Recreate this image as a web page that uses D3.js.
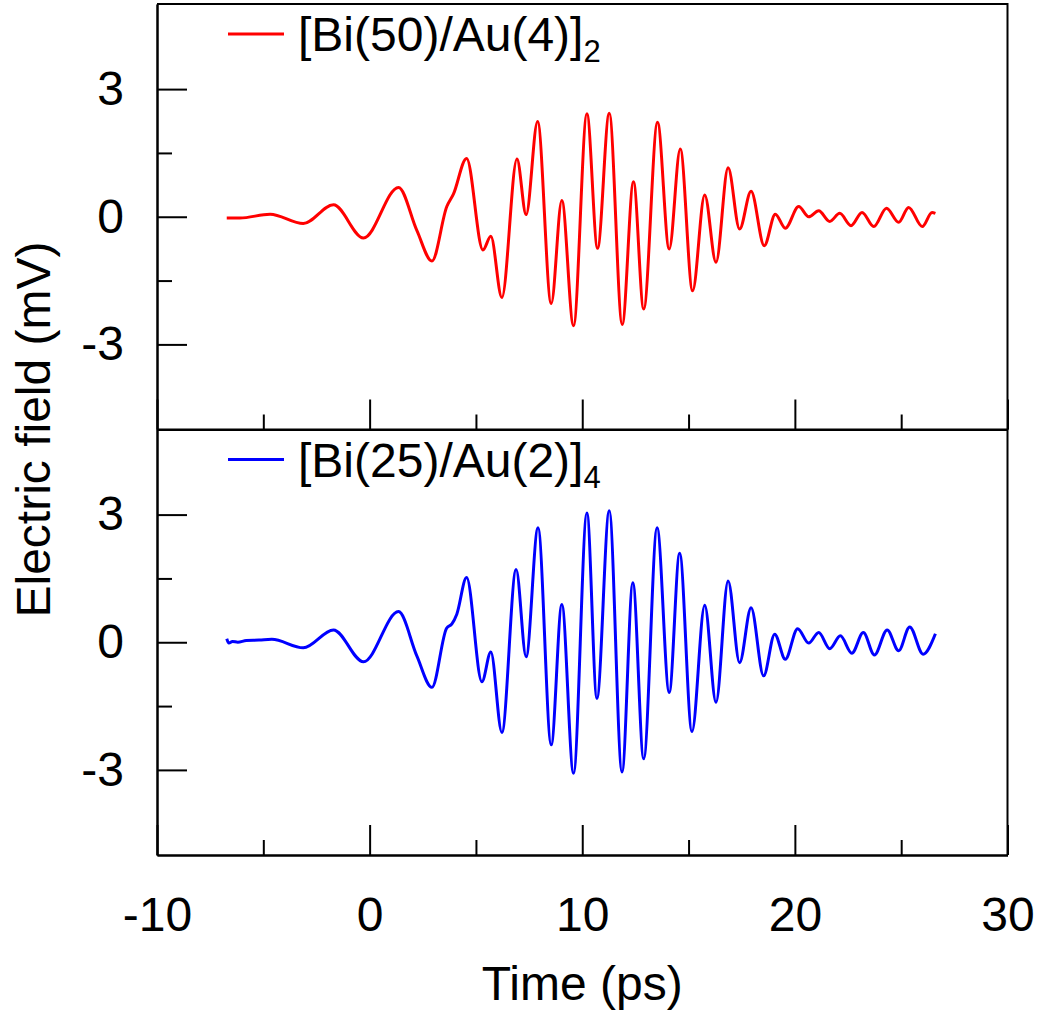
<!DOCTYPE html>
<html>
<head>
<meta charset="utf-8">
<script src="https://cdn.jsdelivr.net/npm/d3@7"></script>
<style>
body { margin: 0; background: #fff; }
text { font-family: "Liberation Sans", Arial, sans-serif; }
</style>
</head>
<body>
<div id="chart"></div>
<script>
// values (extrema and shoulders of each trace)
var redTime = [-6.72, -6.1, -4.68, -3.12, -1.70, -0.29, 1.36, 2.22, 2.93, 3.63, 3.94, 4.56,
    5.33, 5.70, 6.22, 6.93, 7.36, 7.90, 8.54, 9.04, 9.59, 10.22, 10.72, 11.27, 11.88, 12.41,
    12.89, 13.54, 14.09, 14.61, 15.19, 15.76, 16.29, 16.86, 17.40, 17.94, 18.56, 19.08, 19.55,
    20.18, 20.65, 21.12, 21.64, 22.11, 22.64, 23.16, 23.71, 24.31, 24.88, 25.35, 25.99, 26.45, 26.61]
var redField = [-0.03, -0.03, 0.06, -0.16, 0.28, -0.50, 0.69, -0.32, -1.04, 0.24, 0.53, 1.37,
    -0.78, -0.46, -1.90, 1.36, 0.05, 2.24, -2.04, 0.38, -2.56, 2.42, -0.74, 2.43, -2.53, 0.82,
    -2.17, 2.22, -0.76, 1.59, -1.74, 0.51, -1.07, 1.15, -0.29, 0.60, -0.68, 0.06, -0.27,
    0.24, 0.0, 0.14, -0.11, 0.08, -0.21, 0.10, -0.23, 0.20, -0.13, 0.22, -0.23, 0.10, 0.08]

var blueTime = [-6.72, -6.62, -6.45, -6.2, -5.8, -5.2, -4.6, -3.12, -1.70, -0.29, 1.36, 2.22,
    2.93, 3.62, 3.87, 4.10, 4.56, 5.28, 5.70, 6.22, 6.89, 7.36, 7.92, 8.54, 9.04, 9.59, 10.22,
    10.69, 11.27, 11.87, 12.38, 12.89, 13.52, 14.09, 14.58, 15.16, 15.76, 16.29, 16.86, 17.40,
    17.94, 18.53, 19.05, 19.55, 20.13, 20.65, 21.12, 21.64, 22.14, 22.68, 23.22, 23.74, 24.34,
    24.88, 25.40, 26.03, 26.61]
var blueField = [0.08, -0.02, 0.02, 0.0, 0.04, 0.05, 0.07, -0.13, 0.29, -0.46, 0.72, -0.32,
    -1.06, 0.33, 0.43, 0.66, 1.52, -0.93, -0.23, -2.12, 1.71, -0.34, 2.69, -2.41, 0.89, -3.08, 3.04,
    -1.32, 3.09, -3.05, 1.40, -2.74, 2.69, -1.18, 2.09, -2.10, 0.87, -1.41, 1.44, -0.48,
    0.81, -0.79, 0.19, -0.40, 0.32, -0.02, 0.23, -0.15, 0.15, -0.26, 0.23, -0.30, 0.29,
    -0.20, 0.36, -0.28, 0.20]

var xMajor = [-10, 0, 10, 20, 30]
var xMinor = [-5, 5, 15, 25]
var yMajor = [-3, 0, 3]
var yMinor = [-1.5, 1.5]
var xLabel = "Time (ps)"
var yLabel = "Electric field (mV)"

var width = 1040, height = 1023
var margin = {top: 4, right: 32.5, bottom: 168, left: 157}
var panelH = (height - margin.top - margin.bottom) / 2

var svg = d3.select("#chart").append("svg")
            .attr("width", width)
            .attr("height", height)

svg.append("rect").attr("width", width).attr("height", height).attr("fill", "#fff")

var x = d3.scaleLinear()
          .domain([-10, 30])
          .range([margin.left, width - margin.right])

// plain hyphen for negatives, like the original
var plain = function(d) { return String(d) }

function styleAxis(g) {
    g.attr("font-size", 48)
     .attr("font-family", '"Liberation Sans", Arial, sans-serif')
    g.selectAll("line").attr("stroke", "#000").attr("stroke-width", 2)
    g.selectAll(".domain").attr("stroke", "#000").attr("stroke-width", 2)
    g.selectAll("text").attr("fill", "#000")
}

function drawPanel(top, times, field, color, name, sub, bottomLabels) {
    var y = d3.scaleLinear()
              .domain([-5, 5])
              .range([top + panelH, top])

    // y axis, ticks pointing inward
    svg.append("g")
       .attr("transform", "translate(" + margin.left + ",0)")
       .call(d3.axisLeft(y).tickValues(yMajor).tickSize(-30).tickSizeOuter(0).tickPadding(33)
               .tickFormat(plain))
       .call(styleAxis)
    svg.append("g")
       .attr("transform", "translate(" + margin.left + ",0)")
       .call(d3.axisLeft(y).tickValues(yMinor).tickSize(-15).tickSizeOuter(0).tickFormat(""))
       .call(styleAxis)

    // x axis at the bottom of the panel
    svg.append("g")
       .attr("transform", "translate(0," + (top + panelH) + ")")
       .call(d3.axisBottom(x).tickValues(xMajor).tickSize(-30).tickSizeOuter(0).tickPadding(42)
               .tickFormat(bottomLabels ? plain : ""))
       .call(styleAxis)
    svg.append("g")
       .attr("transform", "translate(0," + (top + panelH) + ")")
       .call(d3.axisBottom(x).tickValues(xMinor).tickSize(-15).tickSizeOuter(0).tickFormat(""))
       .call(styleAxis)

    // frame: top and right edges
    svg.append("path")
       .attr("d", "M" + margin.left + "," + top + "H" + (width - margin.right) + "V" + (top + panelH))
       .attr("fill", "none")
       .attr("stroke", "#000")
       .attr("stroke-width", 2)

    var line = d3.line()
                 .x(function(d, i) { return x(times[i]) })
                 .y(function(d) { return y(d) })
                 .curve(d3.curveMonotoneX)

    svg.append("path")
       .datum(field)
       .attr("d", line)
       .attr("fill", "none")
       .attr("stroke", color)
       .attr("stroke-width", 3)
       .attr("stroke-linejoin", "round")

    // legend
    svg.append("line")
       .attr("x1", 228).attr("x2", 284)
       .attr("y1", top + 30).attr("y2", top + 30)
       .attr("stroke", color)
       .attr("stroke-width", 3)
    var t = svg.append("text")
               .attr("x", 298)
               .attr("y", top + 47)
               .attr("font-size", 48)
               .text(name)
    t.append("tspan")
     .attr("dy", 11)
     .attr("font-size", 31)
     .text(sub)
}

drawPanel(margin.top, redTime, redField, "#ff0000", "[Bi(50)/Au(4)]", "2", false)
drawPanel(margin.top + panelH, blueTime, blueField, "#0000ff", "[Bi(25)/Au(2)]", "4", true)

svg.append("text")
   .attr("x", (margin.left + width - margin.right) / 2)
   .attr("y", 1000)
   .attr("text-anchor", "middle")
   .attr("font-size", 48)
   .text(xLabel)

svg.append("text")
   .attr("transform", "translate(50," + (margin.top + panelH) + ") rotate(-90)")
   .attr("text-anchor", "middle")
   .attr("font-size", 48)
   .text(yLabel)
</script>
</body>
</html>
